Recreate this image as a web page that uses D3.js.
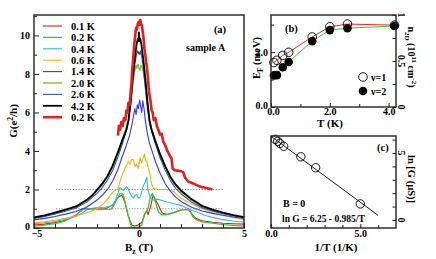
<!DOCTYPE html>
<html>
<head>
<meta charset="utf-8">
<script src="https://cdn.jsdelivr.net/npm/d3@7"></script>
<style>
  body { margin: 0; background: #fff; }
  svg { display: block; }
  text { font-family: "Liberation Serif", "DejaVu Serif", serif; font-weight: bold; fill: #000; }
</style>
</head>
<body>
<svg id="chart" width="436" height="259"></svg>
<script>
// ---- panel (a): G vs Bz, one [B, G] list per temperature ----
const legendLabels = ["0.1 K", "0.2 K", "0.4 K", "0.6 K", "1.4 K", "2.0 K", "2.6 K", "4.2 K", "0.2 K"]

const g01K = [[-5,0.15],[-4.5,0.2],[-4,0.28],[-3.6,0.38],[-3.3,0.52],[-3,0.68],[-2.8,0.86],[-2.65,1.0],[-2.3,1.0],[-2,0.98],[-1.6,1.0],[-1.25,1.2],[-1.0,1.6],[-0.82,1.7],[-0.67,1.35],[-0.53,0.68],[-0.34,0.15],[-0.2,0.1],[-0.05,0.15],[0.14,0.3],[0.29,0.78],[0.37,0.9],[0.43,0.7],[0.55,1.1],[0.62,1.45],[0.67,1.7],[0.77,1.5],[0.87,1.3],[1.1,0.78],[1.35,0.7],[1.73,0.83],[2.07,0.95],[2.35,0.95],[2.5,0.75],[2.7,0.5],[3,0.38],[3.5,0.3],[4,0.25],[4.5,0.22],[5,0.2]]
const g02K = [[-5,0.1],[-4.5,0.15],[-4,0.23],[-3.6,0.33],[-3.3,0.48],[-3,0.65],[-2.8,0.85],[-2.65,0.98],[-2.3,0.98],[-2,0.96],[-1.31,0.98],[-1.07,1.45],[-0.91,1.8],[-0.75,1.75],[-0.59,1.0],[-0.43,0.3],[-0.35,0.05],[-0.2,0.03],[-0.03,0.05],[0.13,0.15],[0.26,0.7],[0.37,0.85],[0.45,1.1],[0.53,1.55],[0.64,1.8],[0.77,1.4],[0.93,0.83],[1.09,0.68],[1.33,0.7],[1.73,0.83],[2.05,0.95],[2.4,0.95],[2.55,0.6],[2.75,0.42],[3,0.32],[3.5,0.25],[4,0.18],[4.5,0.14],[5,0.1]]
const g04K = [[-5,0.22],[-4.5,0.27],[-4,0.34],[-3.5,0.45],[-3,0.6],[-2.7,0.78],[-2.5,0.95],[-2.1,1.05],[-1.6,1.08],[-1.31,1.15],[-1.15,1.35],[-1.07,1.6],[-0.91,2.1],[-0.75,1.95],[-0.59,2.15],[-0.5,2.0],[-0.43,1.8],[-0.35,1.65],[-0.27,1.55],[-0.19,1.7],[-0.11,1.75],[-0.03,1.55],[0.05,1.6],[0.13,1.9],[0.21,2.2],[0.3,2.4],[0.37,2.65],[0.42,2.0],[0.53,1.6],[0.69,1.45],[0.85,1.5],[1.01,1.45],[1.33,1.35],[1.73,1.25],[2.05,1.15],[2.45,0.95],[2.8,0.8],[3.1,0.68],[3.5,0.55],[3.9,0.45],[4.5,0.36],[5,0.3]]
const g06K = [[-5,0.27],[-4.5,0.32],[-4,0.4],[-3.5,0.5],[-3,0.62],[-2.5,0.78],[-2,1.0],[-1.7,1.25],[-1.5,1.5],[-1.3,1.8],[-1.15,1.97],[-1.0,2.0],[-0.91,2.4],[-0.8,2.75],[-0.67,3.1],[-0.58,3.3],[-0.51,3.45],[-0.42,3.3],[-0.35,3.55],[-0.27,3.55],[-0.19,3.2],[-0.11,3.3],[-0.03,3.1],[0.05,3.65],[0.12,3.4],[0.19,3.6],[0.26,3.85],[0.31,3.5],[0.37,3.45],[0.45,3.1],[0.53,2.75],[0.6,2.3],[0.69,2.05],[1.0,2.0],[1.4,2.0],[1.7,1.85],[2.0,1.55],[2.5,1.25],[3.0,1.0],[3.5,0.82],[4.0,0.65],[4.5,0.54],[5,0.45]]
const g14K = [[-5,0.42],[-4.5,0.5],[-4,0.6],[-3.5,0.72],[-3,0.86],[-2.5,1.08],[-2,1.45],[-1.75,1.7],[-1.5,2.0],[-1.25,2.45],[-1,3.05],[-0.8,3.7],[-0.6,4.3],[-0.45,4.8],[-0.35,5.3],[-0.28,5.7],[-0.2,6.2],[-0.14,5.9],[-0.08,6.4],[-0.03,6.2],[0.03,6.65],[0.08,6.3],[0.13,6.0],[0.18,6.6],[0.24,6.2],[0.3,5.6],[0.38,5.0],[0.5,4.4],[0.65,3.9],[0.8,3.4],[1,2.85],[1.25,2.3],[1.5,1.9],[1.75,1.6],[2,1.38],[2.5,1.08],[3,0.88],[3.5,0.76],[4,0.66],[4.5,0.57],[5,0.5]]
const g20K = [[-5,0.5],[-4.5,0.62],[-4,0.76],[-3.5,0.92],[-3,1.1],[-2.5,1.42],[-2,1.95],[-1.75,2.25],[-1.5,2.65],[-1.25,3.2],[-1,3.9],[-0.8,4.55],[-0.6,5.25],[-0.5,5.6],[-0.4,6.5],[-0.3,7.5],[-0.22,8.1],[-0.15,8.45],[-0.1,8.3],[-0.05,8.5],[0,8.3],[0.05,8.2],[0.1,8.45],[0.15,8.35],[0.22,8.0],[0.3,7.4],[0.4,6.4],[0.5,5.6],[0.6,5.15],[0.8,4.45],[1,3.8],[1.25,3.15],[1.5,2.6],[1.75,2.2],[2,1.9],[2.5,1.45],[3,1.1],[3.5,0.92],[4,0.77],[4.5,0.64],[5,0.53]]
const g26K = [[-5,0.5],[-4.5,0.6],[-4,0.73],[-3.5,0.87],[-3,1.04],[-2.5,1.33],[-2,1.8],[-1.75,2.1],[-1.5,2.5],[-1.25,3.0],[-1,3.7],[-0.8,4.35],[-0.6,5.05],[-0.5,5.5],[-0.4,6.3],[-0.3,7.4],[-0.2,8.5],[-0.12,9.0],[-0.07,9.2],[-0.03,9.05],[0,9.15],[0.04,9.0],[0.08,9.2],[0.13,8.9],[0.2,8.4],[0.3,7.3],[0.4,6.2],[0.5,5.45],[0.6,5.0],[0.8,4.3],[1,3.65],[1.25,3.0],[1.5,2.45],[1.75,2.05],[2,1.78],[2.5,1.35],[3,1.05],[3.5,0.88],[4,0.74],[4.5,0.62],[5,0.52]]
const g42K = [[-5,0.55],[-4.5,0.66],[-4,0.8],[-3.5,0.95],[-3,1.12],[-2.5,1.45],[-2.2,1.72],[-2,1.98],[-1.75,2.3],[-1.5,2.7],[-1.25,3.25],[-1,3.95],[-0.8,4.55],[-0.6,5.1],[-0.5,5.6],[-0.4,6.6],[-0.3,7.8],[-0.2,8.8],[-0.12,9.5],[-0.05,9.85],[-0.02,9.7],[0,10.15],[0.02,9.7],[0.05,9.85],[0.12,9.5],[0.2,8.8],[0.3,7.8],[0.4,6.6],[0.5,5.6],[0.6,5.1],[0.8,4.45],[1,3.85],[1.25,3.2],[1.5,2.65],[1.75,2.25],[2,1.95],[2.5,1.5],[3,1.15],[3.5,0.95],[4,0.8],[4.5,0.67],[5,0.56]]
const g02Kb = [[-1.0,4.8],[-0.96,5.3],[-0.9,5.1],[-0.85,5.5],[-0.78,5.3],[-0.72,5.7],[-0.65,5.6],[-0.6,6.1],[-0.55,6.0],[-0.5,6.5],[-0.45,6.4],[-0.4,7.0],[-0.36,7.5],[-0.33,8.1],[-0.3,8.5],[-0.26,9.0],[-0.22,9.6],[-0.18,10.0],[-0.14,10.4],[-0.1,10.3],[-0.06,10.6],[-0.02,10.7],[0.02,10.55],[0.06,10.8],[0.1,10.6],[0.14,10.5],[0.18,10.2],[0.22,9.8],[0.26,9.3],[0.3,9.0],[0.34,8.6],[0.38,8.3],[0.42,7.9],[0.46,7.3],[0.5,6.9],[0.55,6.6],[0.6,6.1],[0.65,6.0],[0.7,5.6],[0.78,5.7],[0.85,5.3],[0.92,5.1],[1.0,4.85],[1.08,4.9],[1.15,4.5],[1.25,4.3],[1.35,4.0],[1.45,3.8],[1.55,3.6],[1.6,3.1],[1.7,3.0],[1.85,2.98],[2.0,2.95],[2.1,2.9],[2.2,2.6],[2.35,2.4],[2.5,2.35],[2.7,2.25],[2.9,2.15],[3.1,2.1],[3.3,2.05],[3.5,2.0]]

const plateaus = [1, 2]
const plateauRange = [-3.95, 4.0]

// ---- panel (b): Fermi energy vs T ----
const tOpen = [0.1, 0.2, 0.4, 0.6, 1.4, 2.0, 2.6, 4.2]
const efOpen = [1.62, 1.7, 1.88, 1.99, 2.55, 2.92, 3.02, 2.98]
const tFilled = [0.1, 0.2, 0.4, 0.6, 1.4, 2.0, 2.6, 4.2]
const efFilled = [1.15, 1.16, 1.45, 1.64, 2.4, 2.8, 2.87, 2.95]
const densTicks = [0, 0.5, 1]

// ---- panel (c): ln G vs 1/T ----
const invT = [5, 2.5, 1.67, 0.71, 0.5, 0.38, 0.24]
const lnG = [1.2, 3.9, 4.72, 5.5, 5.72, 5.87, 6.02]
const lnTicks = [0, 5]
const fitA = 6.25, fitB = 0.985
const fitRange = [0, 6]

const svg = d3.select("#chart")

// right-hand tick labels are written sideways in the original
function sideLabels(scale, values, x, fmt) {
  svg.append("g").selectAll("text")
    .data(values)
    .enter().append("text")
    .attr("transform", d => "translate(" + x + "," + scale(d) + ") rotate(90)")
    .attr("text-anchor", "middle")
    .attr("font-size", 10)
    .text(fmt)
}

// ---------------- panel (a) ----------------
const xA = d3.scaleLinear().domain([-5, 5]).range([34, 244])
const yA = d3.scaleLinear().domain([0, 11.06]).range([228, 15])

const curves = [
  { data: g01K, color: "#e8161b", w: 1.1 },
  { data: g02K, color: "#33c933", w: 1.3 },
  { data: g04K, color: "#2cb7f0", w: 1.1 },
  { data: g06K, color: "#ffb000", w: 1.1 },
  { data: g14K, color: "#3333ff", w: 1.1 },
  { data: g20K, color: "#8fb83c", w: 1.4 },
  { data: g26K, color: "#1f5cb8", w: 1.1 },
  { data: g42K, color: "#000000", w: 1.8 },
  { data: g02Kb, color: "#e5201c", w: 2.6 }
]

const line = d3.line().x(d => xA(d[0])).y(d => yA(d[1]))

svg.append("g").selectAll("line")
  .data(plateaus)
  .enter().append("line")
  .attr("x1", xA(plateauRange[0])).attr("x2", xA(plateauRange[1]))
  .attr("y1", d => yA(d)).attr("y2", d => yA(d))
  .attr("stroke", "#888").attr("stroke-width", 1)
  .attr("stroke-dasharray", "1.2,1.6")

svg.append("g").selectAll("path")
  .data(curves)
  .enter().append("path")
  .attr("d", c => line(c.data))
  .attr("fill", "none")
  .attr("stroke", c => c.color)
  .attr("stroke-width", c => c.w)
  .attr("stroke-linejoin", "round")

// axes (a)
const yAxisA = svg.append("g").attr("transform", "translate(34,0)")
  .call(d3.axisLeft(yA).tickValues([0, 2, 4, 6, 8, 10]).tickSize(-5).tickPadding(4).tickFormat(d3.format("d")))
yAxisA.select(".domain").remove()
yAxisA.selectAll(".tick text").filter(d => d === 0).attr("dy", "0.1em")
svg.append("g").attr("transform", "translate(34,0)")
  .call(d3.axisLeft(yA).tickValues([1, 3, 5, 7, 9, 11]).tickSize(-3).tickFormat(""))
  .select(".domain").remove()

const xAxisA = svg.append("g").attr("transform", "translate(0,228)")
  .call(d3.axisBottom(xA).tickValues([-5, 0, 5]).tickSize(-5).tickPadding(2).tickFormat(d3.format("d")))
xAxisA.select(".domain").remove()
xAxisA.selectAll(".tick text").filter(d => d === -5).attr("dx", "0.25em")
svg.append("g").attr("transform", "translate(0,228)")
  .call(d3.axisBottom(xA).tickValues([-4, -3, -2, -1, 1, 2, 3, 4]).tickSize(-4).tickFormat(""))
  .select(".domain").remove()

svg.append("rect").attr("x", 34).attr("y", 15).attr("width", 210).attr("height", 213)
  .attr("fill", "none").attr("stroke", "#222").attr("stroke-width", 1.4)

// legend (a)
const legA = svg.append("g").selectAll("g")
  .data(curves)
  .enter().append("g")
  .attr("transform", (d, i) => "translate(0," + (26 + i * 11.4) + ")")
legA.append("line").attr("x1", 43).attr("x2", 62)
  .attr("stroke", d => d.color).attr("stroke-width", d => d.w)
legA.append("text").attr("x", 71).attr("y", 3.8)
  .attr("font-size", 10.5).text((d, i) => legendLabels[i])

svg.append("text").attr("x", 220).attr("y", 33).attr("text-anchor", "middle").attr("font-size", 10.5).text("(a)")
svg.append("text").attr("x", 186).attr("y", 51).attr("font-size", 10).text("sample A")

const gLab = svg.append("text").attr("transform", "translate(17,121) rotate(-90)")
  .attr("text-anchor", "middle").attr("font-size", 11)
gLab.append("tspan").text("G(e")
gLab.append("tspan").attr("dy", -4).attr("font-size", 7.5).text("2")
gLab.append("tspan").attr("dy", 4).text("/h)")

const bLab = svg.append("text").attr("x", 139).attr("y", 251).attr("text-anchor", "middle").attr("font-size", 11)
bLab.append("tspan").text("B")
bLab.append("tspan").attr("dy", 3).attr("font-size", 7.5).text("z")
bLab.append("tspan").attr("dy", -3).text(" (T)")

// ---------------- panel (b) ----------------
const xB = d3.scaleLinear().domain([0, 4.25]).range([271, 396])
const yB = d3.scaleLinear().domain([0, 3.35]).range([107, 15])
const yBr = d3.scaleLinear().domain([0, 1]).range([107, 15])

const lineB = d3.line().x(d => xB(d[0])).y(d => yB(d[1]))
svg.append("path").attr("d", lineB(d3.zip(tOpen, efOpen)))
  .attr("fill", "none").attr("stroke", "#ff2020").attr("stroke-width", 1)
svg.append("path").attr("d", lineB(d3.zip(tFilled, efFilled)))
  .attr("fill", "none").attr("stroke", "#33cc33").attr("stroke-width", 1)

svg.append("g").selectAll("circle").data(d3.zip(tFilled, efFilled)).enter().append("circle")
  .attr("cx", d => xB(d[0])).attr("cy", d => yB(d[1])).attr("r", 4.3).attr("fill", "#000")
svg.append("g").selectAll("circle").data(d3.zip(tOpen, efOpen)).enter().append("circle")
  .attr("cx", d => xB(d[0])).attr("cy", d => yB(d[1])).attr("r", 4.3)
  .attr("fill", "none").attr("stroke", "#000").attr("stroke-width", 0.9)

const yAxisB = svg.append("g").attr("transform", "translate(271,0)")
  .call(d3.axisLeft(yB).tickValues([0, 2]).tickSize(-4).tickPadding(3))
yAxisB.select(".domain").remove()
yAxisB.selectAll(".tick text").filter(d => d === 0).attr("dy", "0.1em")
svg.append("g").attr("transform", "translate(271,0)")
  .call(d3.axisLeft(yB).tickValues([1, 3]).tickSize(-3).tickFormat(""))
  .select(".domain").remove()
svg.append("g").attr("transform", "translate(396,0)")
  .call(d3.axisRight(yBr).tickValues([0, 0.25, 0.5, 0.75, 1]).tickSize(-3.5).tickFormat(""))
  .select(".domain").remove()
sideLabels(yBr, densTicks, 398, d => d === 0.5 ? "0.5" : d3.format("d")(d))
const xAxisB = svg.append("g").attr("transform", "translate(0,107)")
  .call(d3.axisBottom(xB).tickValues([0, 2, 4]).tickSize(-4).tickPadding(1))
xAxisB.select(".domain").remove()
xAxisB.selectAll(".tick text").filter(d => d === 0).attr("dx", "0.2em")
svg.append("g").attr("transform", "translate(0,107)")
  .call(d3.axisBottom(xB).tickValues([1, 3]).tickSize(-3).tickFormat(""))
  .select(".domain").remove()

svg.append("rect").attr("x", 271).attr("y", 15).attr("width", 125).attr("height", 92)
  .attr("fill", "none").attr("stroke", "#222").attr("stroke-width", 1.4)

svg.append("text").attr("x", 285).attr("y", 32).attr("font-size", 10.5).text("(b)")
svg.append("circle").attr("cx", 363).attr("cy", 77).attr("r", 4.3).attr("fill", "none").attr("stroke", "#000").attr("stroke-width", 0.9)
svg.append("text").attr("x", 371).attr("y", 81).attr("font-size", 10).text("ν=1")
svg.append("circle").attr("cx", 363).attr("cy", 91).attr("r", 4.3).attr("fill", "#000")
svg.append("text").attr("x", 371).attr("y", 95).attr("font-size", 10).text("ν=2")

const eLab = svg.append("text").attr("transform", "translate(260,58) rotate(-90)")
  .attr("text-anchor", "middle").attr("font-size", 10.5)
eLab.append("tspan").text("E")
eLab.append("tspan").attr("dy", 3).attr("font-size", 7.5).text("F")
eLab.append("tspan").attr("dy", -3).text(" (meV)")

const nLab = svg.append("text").attr("transform", "translate(408,57) rotate(90)")
  .attr("text-anchor", "middle").attr("font-size", 10)
nLab.append("tspan").text("n")
nLab.append("tspan").attr("dy", 3).attr("font-size", 7).text("2D")
nLab.append("tspan").attr("dy", -3).text(" (10")
nLab.append("tspan").attr("dy", -4).attr("font-size", 7).text("11")
nLab.append("tspan").attr("dy", 4).text(" cm")
nLab.append("tspan").attr("dy", -4).attr("font-size", 7).text("-2")
nLab.append("tspan").attr("dy", 4).text(")")

svg.append("text").attr("x", 330).attr("y", 127).attr("text-anchor", "middle").attr("font-size", 11).text("T (K)")

// ---------------- panel (c) ----------------
const xC = d3.scaleLinear().domain([0, 7]).range([271, 396])
const yC = d3.scaleLinear().domain([-0.6, 6.27]).range([228, 136])

svg.append("line")
  .attr("x1", xC(fitRange[0])).attr("y1", yC(fitA - fitB * fitRange[0]))
  .attr("x2", xC(fitRange[1])).attr("y2", yC(fitA - fitB * fitRange[1]))
  .attr("stroke", "#000").attr("stroke-width", 0.9)

svg.append("g").selectAll("circle").data(d3.zip(invT, lnG)).enter().append("circle")
  .attr("cx", d => xC(d[0])).attr("cy", d => yC(d[1])).attr("r", 4.2)
  .attr("fill", "none").attr("stroke", "#000").attr("stroke-width", 0.9)

svg.append("g").attr("transform", "translate(396,0)")
  .call(d3.axisRight(yC).tickValues([0, 1, 2, 3, 4, 5, 6]).tickSize(-3.5).tickFormat(""))
  .select(".domain").remove()
sideLabels(yC, lnTicks, 398, d3.format("d"))
const xAxisC = svg.append("g").attr("transform", "translate(0,228)")
  .call(d3.axisBottom(xC).tickValues([0, 5]).tickSize(-4).tickPadding(2))
xAxisC.select(".domain").remove()
svg.append("g").attr("transform", "translate(0,228)")
  .call(d3.axisBottom(xC).tickValues([1, 2, 3, 4, 6]).tickSize(-3).tickFormat(""))
  .select(".domain").remove()

svg.append("rect").attr("x", 271).attr("y", 136).attr("width", 125).attr("height", 92)
  .attr("fill", "none").attr("stroke", "#222").attr("stroke-width", 1.4)

svg.append("text").attr("x", 377).attr("y", 151).attr("font-size", 10.5).text("(c)")
svg.append("text").attr("x", 283).attr("y", 207).attr("font-size", 10).text("B = 0")
svg.append("text").attr("x", 282).attr("y", 222).attr("font-size", 9.5).text("ln G = 6.25 - 0.985/T")

svg.append("text").attr("transform", "translate(408,179) rotate(90)")
  .attr("text-anchor", "middle").attr("font-size", 10.5).text("ln [G (µS)]")
svg.append("text").attr("x", 336).attr("y", 251).attr("text-anchor", "middle").attr("font-size", 11).text("1/T (1/K)")

// tick label fonts
svg.selectAll(".tick text").attr("font-size", 10).attr("fill", "#000")
svg.selectAll(".tick line").attr("stroke", "#222")
</script>
</body>
</html>
